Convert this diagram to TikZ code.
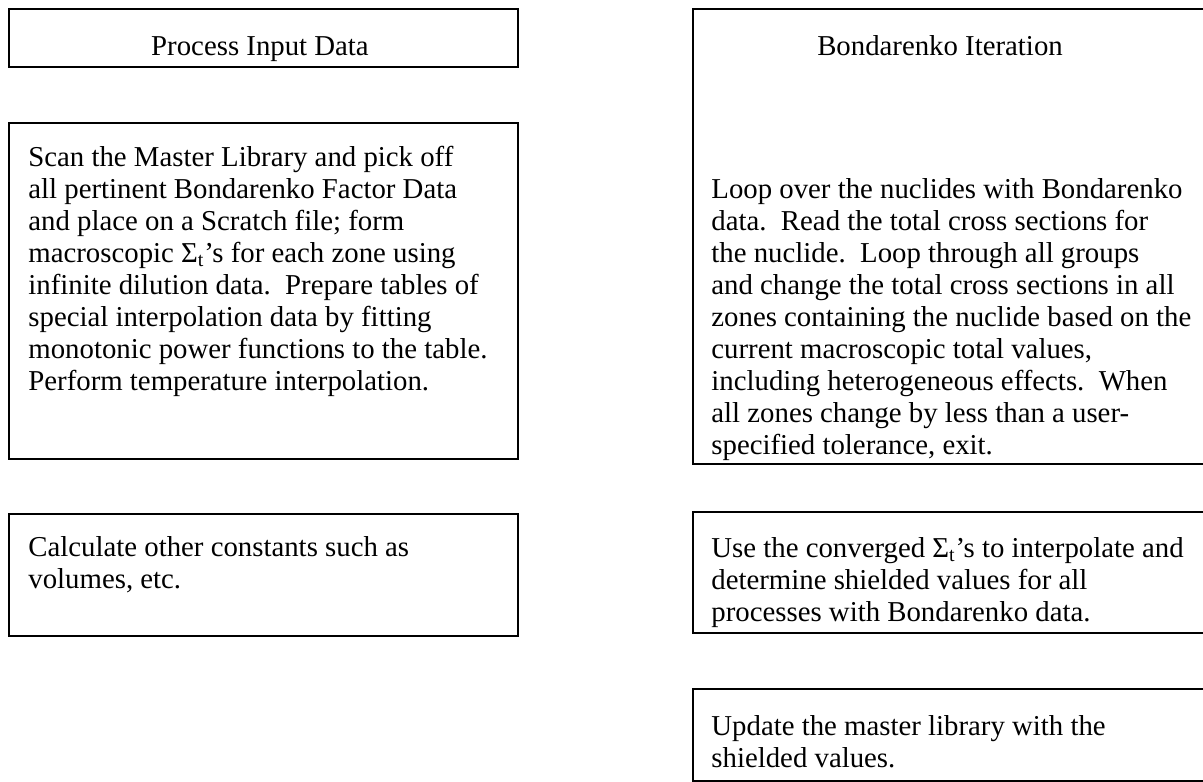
\documentclass[tikz,border=0pt]{standalone}
\usepackage{fontspec}
\setmainfont{Liberation Serif}
\newcommand\textlines[1]{\vtop{\halign{##\hfil\cr#1\crcr}}}
\begin{document}
\begin{tikzpicture}[x=0.5pt,y=-0.5pt,
  font=\fontsize{14.4}{16}\selectfont,
  boxstyle/.style={draw, line width=1.1pt, inner sep=0pt, anchor=north west},
  txt/.style={inner sep=0pt, anchor=base west},
  ttl/.style={inner sep=0pt, anchor=base}]
\useasboundingbox (0,0) rectangle (1203,781);
\clip (0,0) rectangle (1203,781);
% left column
\node[boxstyle, minimum width=254.5pt, minimum height=29pt] (L1) at (8,8) {};
\node[boxstyle, minimum width=254.5pt, minimum height=168pt] (L2) at (8,122) {};
\node[boxstyle, minimum width=254.5pt, minimum height=61pt] (L3) at (8,513) {};
% right column
\node[boxstyle, minimum width=260pt, minimum height=227.5pt] (RA) at (692,8) {};
\node[boxstyle, minimum width=260pt, minimum height=60.5pt] (RB) at (692,511) {};
\node[boxstyle, minimum width=260pt, minimum height=46pt] (RC) at (692,688) {};
% texts
\node[ttl] (t1) at (260,56) {Process Input Data};
\node[ttl] (tA) at (940,56) {Bondarenko Iteration};
\node[txt] (t2) at (28,166) {\textlines{Scan the Master Library and pick off\cr
all pertinent Bondarenko Factor Data\cr
and place on a Scratch file; form\cr
macroscopic Σ\textsubscript{t}’s for each zone using\cr
infinite dilution data.\ \ Prepare tables of\cr
special interpolation data by fitting\cr
monotonic power functions to the table.\cr
Perform temperature interpolation.}};
\node[txt] (t3) at (28,556) {\textlines{Calculate other constants such as\cr
volumes, etc.}};
\node[txt] (tAb) at (711,198) {\textlines{Loop over the nuclides with Bondarenko\cr
data.\ \ Read the total cross sections for\cr
the nuclide.\ \ Loop through all groups\cr
and change the total cross sections in all\cr
zones containing the nuclide based on the\cr
current macroscopic total values,\cr
including heterogeneous effects.\ \ When\cr
all zones change by less than a user-\cr
specified tolerance, exit.}};
\node[txt] (tB) at (711,557) {\textlines{Use the converged Σ\textsubscript{t}’s to interpolate and\cr
determine shielded values for all\cr
processes with Bondarenko data.}};
\node[txt] (tC) at (711,735) {\textlines{Update the master library with the\cr
shielded values.}};
\end{tikzpicture}
\end{document}
